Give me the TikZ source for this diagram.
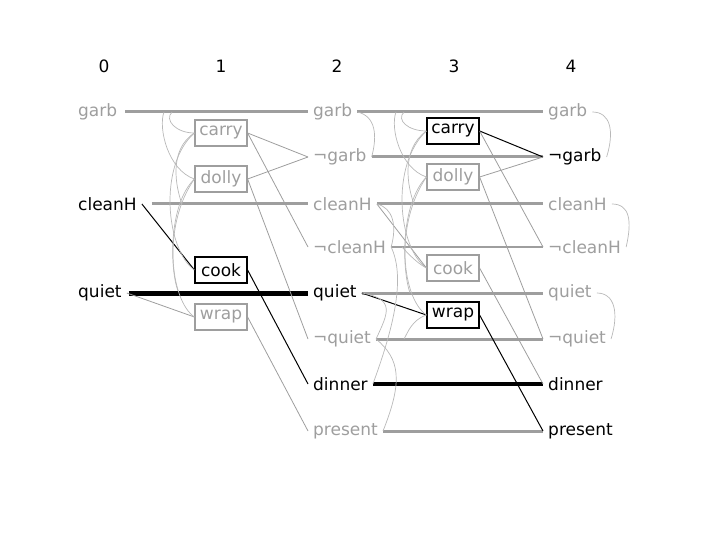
\documentclass[tikz,border=0pt]{standalone}
\usepackage{fontspec}
\setmainfont{DejaVu Sans}
\definecolor{dim}{gray}{0.62}
\definecolor{faint}{gray}{0.72}

\begin{document}
\begin{tikzpicture}[x=1pt, y=-1pt,
    font=\fontsize{17}{20}\selectfont,
    prop/.style={anchor=west, inner xsep=5pt, inner ysep=0pt},
    act/.style={draw, line width=1.2pt, minimum width=52pt, minimum height=26pt, inner sep=0pt},
    offact/.style={act, draw=dim, text=dim},
    noop/.style={line width=3pt, draw=dim},
    noopon/.style={line width=5pt, draw=black},
    edge/.style={line width=0.8pt, draw=dim},
    edgeon/.style={line width=1pt, draw=black},
    mutex/.style={line width=0.7pt, draw=faint}]
    \useasboundingbox (0,0) rectangle (720,540);

    % Nummern der Ebenen
    \foreach \lev/\x in {0/104, 1/221, 2/337, 3/454, 4/571}
        \node (h\lev) at (\x,66) {\lev};

    % Ebene 0
    \node[prop, text=dim] (g0) at (73,112) {garb};
    \node[prop] (c0) at (73,204) {cleanH};
    \node[prop] (q0) at (73,293) {quiet};

    % Ebene 1 (Aktionen)
    \node[offact] (carry1) at (221,133) {carry};
    \node[offact] (dolly1) at (221,179) {dolly};
    \node[act] (cook1) at (221,270) {cook};
    \node[offact] (wrap1) at (221,317) {wrap};

    % Ebene 2
    \node[prop, text=dim] (g2) at (308,112) {garb};
    \node[prop, text=dim] (ng2) at (308,157) {¬garb};
    \node[prop, text=dim] (c2) at (308,204) {cleanH};
    \node[prop, text=dim] (nc2) at (308,247) {¬cleanH};
    \node[prop] (q2) at (308,293) {quiet};
    \node[prop, text=dim] (nq2) at (308,339) {¬quiet};
    \node[prop] (dn2) at (308,384) {dinner};
    \node[prop, text=dim] (pr2) at (308,431) {present};

    % Ebene 3 (Aktionen)
    \node[act] (carry3) at (453,131) {carry};
    \node[offact] (dolly3) at (453,177) {dolly};
    \node[offact] (cook3) at (453,268) {cook};
    \node[act] (wrap3) at (453,315) {wrap};

    % Ebene 4
    \node[prop, text=dim] (g4) at (543,112) {garb};
    \node[prop] (ng4) at (543,157) {¬garb};
    \node[prop, text=dim] (c4) at (543,204) {cleanH};
    \node[prop, text=dim] (nc4) at (543,247) {¬cleanH};
    \node[prop, text=dim] (q4) at (543,293) {quiet};
    \node[prop, text=dim] (nq4) at (543,339) {¬quiet};
    \node[prop] (dn4) at (543,384) {dinner};
    \node[prop] (pr4) at (543,431) {present};

    % No-op Linien
    \draw[noop, shorten <=3pt] (g0.east) -- (g2.west);
    \draw[noop, shorten <=10pt] (c0.east) -- (c2.west);
    \draw[noopon, shorten <=2pt] (q0.east) -- (q2.west);
    \draw[noop] (g2.east) -- (g4.west);
    \draw[noop] (ng2.east) -- (ng4.west);
    \draw[noop] (c2.east) -- (c4.west);
    \draw[noop, line width=2pt] (nc2.east) -- (nc4.west);
    \draw[noop] (q2.east) -- (q4.west);
    \draw[noop] (nq2.east) -- (nq4.west);
    \draw[noopon, line width=4pt] (dn2.east) -- (dn4.west);
    \draw[noop] (pr2.east) -- (pr4.west);

    % Vorbedingungen und Effekte
    \draw[edgeon] (c0.east) -- (cook1.west);
    \draw[edge] (q0.east) -- (wrap1.west);
    \draw[edge] (carry1.east) -- (ng2.west);
    \draw[edge] (carry1.east) -- (nc2.west);
    \draw[edge] (dolly1.east) -- (ng2.west);
    \draw[edge] (dolly1.east) -- (nq2.west);
    \draw[edgeon] (cook1.east) -- (dn2.west);
    \draw[edge] (wrap1.east) -- (pr2.west);

    \draw[edgeon] (q2.east) -- (wrap3.west);
    \draw[edge] (c2.east) -- (cook3.west);
    \draw[edgeon] (carry3.east) -- (ng4.west);
    \draw[edge] (carry3.east) -- (nc4.west);
    \draw[edge] (dolly3.east) -- (ng4.west);
    \draw[edge] (dolly3.east) -- (nq4.west);
    \draw[edge] (cook3.east) -- (dn4.west);
    \draw[edgeon] (wrap3.east) -- (pr4.west);

    % Mutex-Boegen Ebene 1
    \coordinate (m1g) at (172,112);
    \coordinate (m1h) at (164,112);
    \coordinate (m1c) at (182,204);
    \coordinate (m1q) at (178,291);
    \draw[mutex] (carry1.west) .. controls (176,133) and (164,120) .. (m1g);
    \draw[mutex] (carry1.west) .. controls (168,150) and (176,188) .. (m1c);
    \draw[mutex] (dolly1.west) .. controls (168,170) and (158,128) .. (m1h);
    \draw[mutex] (dolly1.west) .. controls (168,205) and (170,270) .. (m1q);
    \draw[mutex] (carry1.west) .. controls (158,165) and (166,250) .. (cook1.west);
    \draw[mutex] (dolly1.west) .. controls (162,225) and (170,300) .. (wrap1.west);

    % Mutex-Boegen Ebene 3
    \coordinate (m3g) at (404,112);
    \coordinate (m3h) at (396,112);
    \coordinate (m3c) at (414,204);
    \coordinate (m3n) at (402,247);
    \coordinate (m3q) at (410,293);
    \coordinate (m3p) at (404,339);
    \draw[mutex] (carry3.west) .. controls (408,131) and (396,120) .. (m3g);
    \draw[mutex] (carry3.west) .. controls (400,150) and (408,188) .. (m3c);
    \draw[mutex] (dolly3.west) .. controls (400,168) and (390,128) .. (m3h);
    \draw[mutex] (dolly3.west) .. controls (400,205) and (402,270) .. (m3q);
    \draw[mutex] (carry3.west) .. controls (390,165) and (398,248) .. (cook3.west);
    \draw[mutex] (dolly3.west) .. controls (394,225) and (402,298) .. (wrap3.west);
    \draw[mutex] (cook3.west) .. controls (415,262) and (405,250) .. (m3n);
    \draw[mutex] (wrap3.west) .. controls (412,320) and (408,332) .. (m3p);

    % Mutex-Boegen Ebene 2
    \draw[mutex] (g2.east) .. controls +(18,4) and +(6,-22) .. (ng2.east);
    \draw[mutex] (c2.east) .. controls +(16,4) and +(6,-22) .. (nc2.east);
    \draw[mutex] (q2.east) .. controls +(34,6) and +(12,-26) .. (nq2.east);
    \draw[mutex] (nc2.east) .. controls +(14,30) and +(22,-60) .. (dn2.east);
    \draw[mutex] (nq2.east) .. controls +(24,20) and +(20,-50) .. (pr2.east);

    % Mutex-Boegen Ebene 4
    \draw[mutex] (g4.east) .. controls +(18,0) and +(8,-26) .. (ng4.east);
    \draw[mutex] (c4.east) .. controls +(18,0) and +(6,-26) .. (nc4.east);
    \draw[mutex] (q4.east) .. controls +(18,0) and +(8,-26) .. (nq4.east);
\end{tikzpicture}
\end{document}
